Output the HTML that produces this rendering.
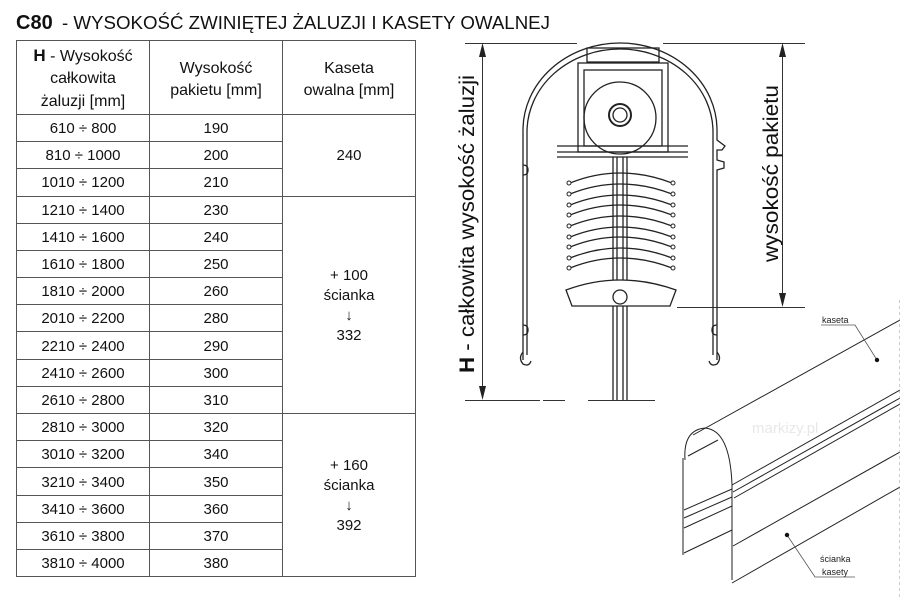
<!DOCTYPE html>
<html><head><meta charset="utf-8"><style>
html,body{margin:0;padding:0;background:#fff;}
svg{display:block;font-family:"Liberation Sans",Arial,sans-serif;}
</style></head><body>
<svg width="900" height="600" viewBox="0 0 900 600" xmlns="http://www.w3.org/2000/svg">
<!-- title -->
<text x="16" y="29" font-size="20" font-weight="bold" fill="#111">C80</text>
<text x="62" y="29" font-size="18" fill="#111" textLength="488" lengthAdjust="spacingAndGlyphs">- WYSOKOŚĆ ZWINIĘTEJ ŻALUZJI I KASETY OWALNEJ</text>
<!-- table -->
<g stroke="#555" stroke-width="1" fill="none">
<rect x="16.5" y="40.5" width="399" height="536"/>
<line x1="149.5" y1="40" x2="149.5" y2="577"/>
<line x1="282.5" y1="40" x2="282.5" y2="577"/>
<line x1="16" y1="114.5" x2="416" y2="114.5"/>
<line x1="16" y1="141.5" x2="282" y2="141.5"/>
<line x1="16" y1="168.5" x2="282" y2="168.5"/>
<line x1="16" y1="196.5" x2="416" y2="196.5"/>
<line x1="16" y1="223.5" x2="282" y2="223.5"/>
<line x1="16" y1="250.5" x2="282" y2="250.5"/>
<line x1="16" y1="277.5" x2="282" y2="277.5"/>
<line x1="16" y1="304.5" x2="282" y2="304.5"/>
<line x1="16" y1="331.5" x2="282" y2="331.5"/>
<line x1="16" y1="359.5" x2="282" y2="359.5"/>
<line x1="16" y1="386.5" x2="282" y2="386.5"/>
<line x1="16" y1="413.5" x2="416" y2="413.5"/>
<line x1="16" y1="440.5" x2="282" y2="440.5"/>
<line x1="16" y1="467.5" x2="282" y2="467.5"/>
<line x1="16" y1="495.5" x2="282" y2="495.5"/>
<line x1="16" y1="522.5" x2="282" y2="522.5"/>
<line x1="16" y1="549.5" x2="282" y2="549.5"/>
</g>
<g font-size="16" fill="#111" text-anchor="middle">
<text x="83" y="61"><tspan font-weight="bold" font-size="17">H</tspan> - Wysokość</text>
<text x="83" y="83">całkowita</text>
<text x="83" y="106">żaluzji [mm]</text>
<text x="216" y="73">Wysokość</text>
<text x="216" y="95">pakietu [mm]</text>
<text x="349" y="73">Kaseta</text>
<text x="349" y="95">owalna [mm]</text>
</g>
<g font-size="15" fill="#111" text-anchor="middle">
<text x="83" y="133">610 ÷ 800</text><text x="216" y="133">190</text>
<text x="83" y="160">810 ÷ 1000</text><text x="216" y="160">200</text>
<text x="83" y="187">1010 ÷ 1200</text><text x="216" y="187">210</text>
<text x="83" y="215">1210 ÷ 1400</text><text x="216" y="215">230</text>
<text x="83" y="242">1410 ÷ 1600</text><text x="216" y="242">240</text>
<text x="83" y="269">1610 ÷ 1800</text><text x="216" y="269">250</text>
<text x="83" y="296">1810 ÷ 2000</text><text x="216" y="296">260</text>
<text x="83" y="323">2010 ÷ 2200</text><text x="216" y="323">280</text>
<text x="83" y="351">2210 ÷ 2400</text><text x="216" y="351">290</text>
<text x="83" y="378">2410 ÷ 2600</text><text x="216" y="378">300</text>
<text x="83" y="405">2610 ÷ 2800</text><text x="216" y="405">310</text>
<text x="83" y="432">2810 ÷ 3000</text><text x="216" y="432">320</text>
<text x="83" y="459">3010 ÷ 3200</text><text x="216" y="459">340</text>
<text x="83" y="487">3210 ÷ 3400</text><text x="216" y="487">350</text>
<text x="83" y="514">3410 ÷ 3600</text><text x="216" y="514">360</text>
<text x="83" y="541">3610 ÷ 3800</text><text x="216" y="541">370</text>
<text x="83" y="568">3810 ÷ 4000</text><text x="216" y="568">380</text>
<text x="349" y="160">240</text>
<text x="349" y="280">+ 100</text>
<text x="349" y="300">ścianka</text>
<text x="349" y="320">↓</text>
<text x="349" y="340">332</text>
<text x="349" y="470">+ 160</text>
<text x="349" y="490">ścianka</text>
<text x="349" y="510">↓</text>
<text x="349" y="530">392</text>
</g>
<!-- dimension lines -->
<g stroke="#333" stroke-width="1" fill="none">
<line x1="465" y1="43.5" x2="577" y2="43.5"/>
<line x1="663" y1="43.5" x2="805" y2="43.5"/>
<line x1="465" y1="400.5" x2="540" y2="400.5"/>
<line x1="543" y1="400.5" x2="565" y2="400.5"/>
<line x1="588" y1="400.5" x2="655" y2="400.5"/>
<line x1="677" y1="307.5" x2="805" y2="307.5"/>
<line x1="482.5" y1="50" x2="482.5" y2="393"/>
<line x1="782.5" y1="50" x2="782.5" y2="300"/>
</g>
<g fill="#222">
<polygon points="482.5,43 479,57 486,57"/><polygon points="482.5,400 479,386 486,386"/>
<polygon points="782.5,43 779,57 786,57"/><polygon points="782.5,307 779,293 786,293"/>
</g>
<text transform="translate(474,373) rotate(-90)" font-size="21" fill="#111" textLength="298" lengthAdjust="spacingAndGlyphs"><tspan font-weight="bold">H</tspan> - całkowita wysokość żaluzji</text>
<text transform="translate(778,262) rotate(-90)" font-size="21" fill="#111" textLength="177" lengthAdjust="spacingAndGlyphs">wysokość pakietu</text>
<!-- cassette cross-section -->
<g stroke="#222" stroke-width="1.3" fill="none">
<path d="M523,360 L523,130 A97,87 0 0 1 717,130 L717,140 L725,146 L722,150 L717,150 L717,160 L724,162 L724,168 L717,170 L717,360"/>
<path d="M527,355 L527,132 A93,83 0 0 1 713,132 L713,355"/>
<path d="M523,165 q5,0 5,5 q0,5 -5,5"/><path d="M523,325 q5,0 5,5 q0,5 -5,5"/>
<path d="M717,325 q-5,0 -5,5 q0,5 5,5"/>
<path d="M523,352 q-5,6 0,12 q6,3 8,-3"/><path d="M717,352 q5,6 0,12 q-6,3 -8,-3"/>
<rect x="578" y="63" width="90" height="89"/>
<rect x="584" y="70" width="78" height="76"/>
<rect x="587" y="48" width="72" height="14"/>
<circle cx="620" cy="118" r="36"/>
<circle cx="620" cy="115" r="11" stroke-width="2"/>
<circle cx="620" cy="115" r="7"/>
<path d="M557,146 L688,146 M557,152 L688,152 M557,157 L688,157"/>
<path d="M613,157 V400 M617,157 V400 M623,157 V400 M627,157 V400"/>
<path d="M566,290 Q620,270 676,290 L670,306 L572,306 Z" fill="#fff"/>
<circle cx="620" cy="297" r="7" fill="#fff"/>
</g>
<g stroke="#222" stroke-width="1.3" fill="none">
<path d="M570,183 Q620,163 672,183"/>
<path d="M570,194 Q620,174 672,194"/>
<path d="M570,205 Q620,185 672,205"/>
<path d="M570,215 Q620,195 672,215"/>
<path d="M570,226 Q620,206 672,226"/>
<path d="M570,237 Q620,217 672,237"/>
<path d="M570,247 Q620,227 672,247"/>
<path d="M570,258 Q620,238 672,258"/>
<path d="M570,268 Q620,248 672,268"/>
</g>
<g fill="#fff" stroke="#222" stroke-width="1">
<circle cx="569" cy="183" r="2"/><circle cx="673" cy="183" r="2"/>
<circle cx="569" cy="194" r="2"/><circle cx="673" cy="194" r="2"/>
<circle cx="569" cy="205" r="2"/><circle cx="673" cy="205" r="2"/>
<circle cx="569" cy="215" r="2"/><circle cx="673" cy="215" r="2"/>
<circle cx="569" cy="226" r="2"/><circle cx="673" cy="226" r="2"/>
<circle cx="569" cy="237" r="2"/><circle cx="673" cy="237" r="2"/>
<circle cx="569" cy="247" r="2"/><circle cx="673" cy="247" r="2"/>
<circle cx="569" cy="258" r="2"/><circle cx="673" cy="258" r="2"/>
<circle cx="569" cy="268" r="2"/><circle cx="673" cy="268" r="2"/>
</g>
<!-- perspective cassette -->
<g stroke="#222" stroke-width="1" fill="none">
<line x1="693" y1="435" x2="900" y2="320"/>
<path d="M685,460 Q683,430 705,428 Q730,430 732,485 L732,580"/>
<line x1="683" y1="458" x2="683" y2="555"/>
<line x1="732" y1="485" x2="900" y2="390"/>
<line x1="733" y1="492" x2="900" y2="398"/>
<line x1="734" y1="498" x2="900" y2="404"/>
<line x1="733" y1="546" x2="900" y2="452"/>
<line x1="732" y1="583" x2="900" y2="487"/>
<line x1="684" y1="510" x2="732" y2="489"/>
<line x1="684" y1="518" x2="732" y2="497"/>
<line x1="684" y1="528" x2="732" y2="506"/>
<line x1="684" y1="553" x2="732" y2="530"/>
<line x1="688" y1="456" x2="718" y2="440"/>
<line x1="900" y1="300" x2="900" y2="600" stroke-dasharray="3,3" stroke="#999"/>
</g>
<text x="752" y="433" font-size="15" fill="#e8e8e8">markizy.pl</text>
<g stroke="#555" stroke-width="0.8" fill="none">
<polyline points="821,325 855,325 877,360"/>
<polyline points="787,535 815,577 855,577"/>
</g>
<circle cx="877" cy="360" r="2.2" fill="#111"/>
<circle cx="787" cy="535" r="2.2" fill="#111"/>
<text x="822" y="323" font-size="9" fill="#222">kaseta</text>
<text x="820" y="562" font-size="9" fill="#222">ścianka</text>
<text x="822" y="575" font-size="9" fill="#222">kasety</text>
</svg>
</body></html>
